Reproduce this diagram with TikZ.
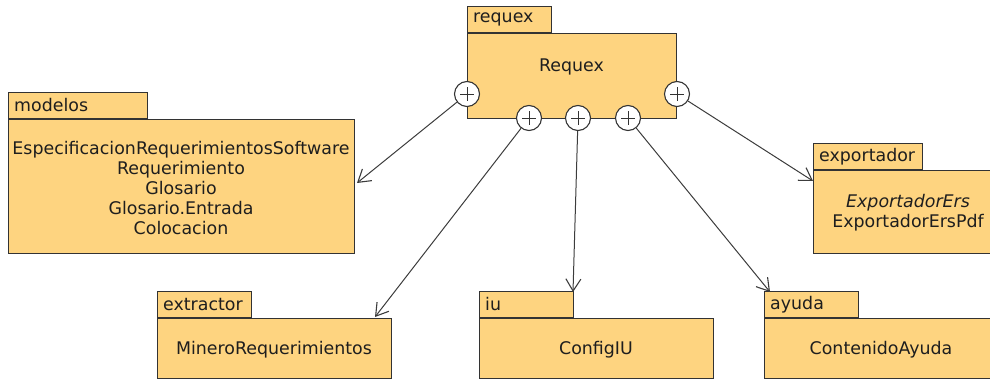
\documentclass[tikz,border=0pt]{standalone}
\usepackage{fontspec}
\setmainfont{DejaVu Sans}
\usetikzlibrary{arrows.meta}
\definecolor{pkgfill}{RGB}{254,212,128}
\definecolor{pkgline}{RGB}{51,51,51}
\definecolor{inktext}{RGB}{30,30,30}
\definecolor{wire}{RGB}{60,60,60}
\begin{document}
\begin{tikzpicture}[x=1pt,y=-1pt,
  txt/.style={text=inktext, inner sep=0pt, font=\fontsize{17.4}{20.2}\selectfont, align=center},
  pkgtab/.style={draw=pkgline, fill=pkgfill, line width=1.1pt, anchor=south west,
    inner sep=0pt, minimum height=26pt, minimum width=#1},
  pkgbody/.style 2 args={draw=pkgline, fill=pkgfill, line width=1.1pt, anchor=north west,
    inner sep=0pt, minimum width=#1, minimum height=#2},
  tablabel/.style={txt, anchor=west},
  plusmark/.style={circle, draw=pkgline, fill=white, line width=1.1pt, minimum size=25pt, inner sep=0pt,
    path picture={\draw[pkgline, line width=0.9pt]
      ([xshift=-7pt]path picture bounding box.center) -- ([xshift=7pt]path picture bounding box.center)
      ([yshift=-7pt]path picture bounding box.center) -- ([yshift=7pt]path picture bounding box.center);}},
  conn/.style={draw=wire, line width=1pt, -{Straight Barb[length=12pt,width=15pt,line width=1.1pt]}}
]
\useasboundingbox (0,0) rectangle (990,379);
\clip (0,0) rectangle (990,379);

% package requex
\node[pkgbody={209pt}{85pt}] (rqB) at (467,33) {};
\node[pkgtab=84pt] (rqT) at (467,33) {};
\node[tablabel] (rqL) at ([xshift=6pt]rqT.west) {requex};
\node[txt] (rqX) at (571.5,67) {Requex};

% package modelos
\node[pkgbody={346pt}{134pt}] (moB) at (8,119) {};
\node[pkgtab=139pt] (moT) at (8,119) {};
\node[tablabel] (moL) at ([xshift=6pt]moT.west) {modelos};
\node[txt] (moX) at (181,188) {EspecificacionRequerimientosSoftware\\Requerimiento\\Glosario\\Glosario.Entrada\\Colocacion};

% package exportador
\node[pkgbody={190pt}{83pt}] (exB) at (813,170) {};
\node[pkgtab=109pt] (exT) at (813,170) {};
\node[tablabel] (exL) at ([xshift=6pt]exT.west) {exportador};
\node[txt] (exX) at (908,213) {\textit{ExportadorErs}\\ExportadorErsPdf};

% package extractor
\node[pkgbody={234pt}{60pt}] (etB) at (157,318) {};
\node[pkgtab=94pt] (etT) at (157,318) {};
\node[tablabel] (etL) at ([xshift=6pt]etT.west) {extractor};
\node[txt] (etX) at (274,350) {MineroRequerimientos};

% package iu
\node[pkgbody={234pt}{60pt}] (iuB) at (479,318) {};
\node[pkgtab=94pt] (iuT) at (479,318) {};
\node[tablabel] (iuL) at ([xshift=6pt]iuT.west) {iu};
\node[txt] (iuX) at (596,350) {ConfigIU};

% package ayuda
\node[pkgbody={234pt}{60pt}] (ayB) at (764,318) {};
\node[pkgtab=94pt] (ayT) at (764,318) {};
\node[tablabel] (ayL) at ([xshift=6pt]ayT.west) {ayuda};
\node[txt] (ayX) at (881,350) {ContenidoAyuda};

% nesting markers on requex
\node[plusmark] (p1) at (467,94) {};
\node[plusmark] (p2) at (529,118) {};
\node[plusmark] (p3) at (578,118) {};
\node[plusmark] (p4) at (628,118) {};
\node[plusmark] (p5) at (677,94) {};

% arrow end points
\coordinate (toMo) at (357,183);
\coordinate (toEt) at (375,317);
\coordinate (toIu) at (573,292);
\coordinate (toAy) at (770,292);
\coordinate (toEx) at (813,181);

\draw[conn] (p1) -- (toMo);
\draw[conn] (p2) -- (toEt);
\draw[conn] (p3) -- (toIu);
\draw[conn] (p4) -- (toAy);
\draw[conn] (p5) -- (toEx);
\end{tikzpicture}
\end{document}
